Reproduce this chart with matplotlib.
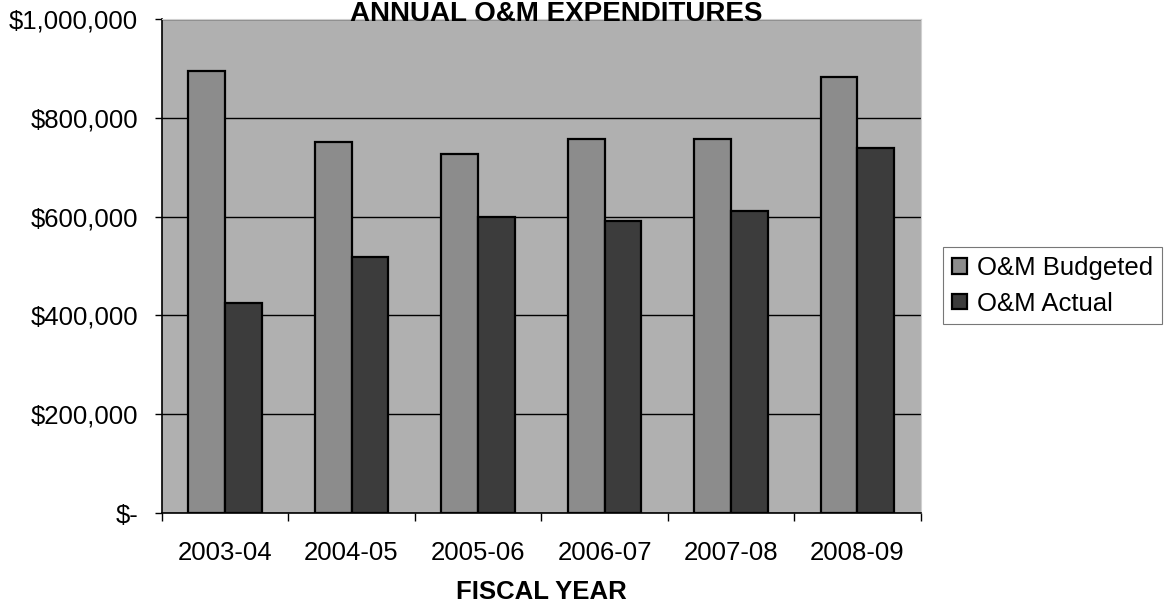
import matplotlib.pyplot as plt
import numpy as np
from matplotlib.ticker import FuncFormatter, FixedLocator

plt.rcParams['font.family'] = ['Liberation Sans', 'DejaVu Sans']

years = ["2003-04", "2004-05", "2005-06", "2006-07", "2007-08", "2008-09"]
budgeted = [895000, 750000, 726000, 757000, 757000, 883000]
actual = [425000, 519000, 599000, 592000, 611000, 739000]

def money(v, pos):
    if v == 0:
        return "$-"
    return "${:,.0f}".format(v)

fig = plt.figure(figsize=(11.64, 6.10), dpi=100)
ax = fig.add_axes([0.139, 0.159, 0.652, 0.810])
ax.set_facecolor('#b0b0b0')

x = np.arange(len(years))
w = 0.29
ax.bar(x - w / 2, budgeted, w, color='#8c8c8c', edgecolor='black', linewidth=1.6,
       label='O&M Budgeted', zorder=3)
ax.bar(x + w / 2, actual, w, color='#3c3c3c', edgecolor='black', linewidth=1.6,
       label='O&M Actual', zorder=3)

ax.set_xlim(-0.5, len(years) - 0.5)
ax.set_ylim(0, 1000000)
ax.set_yticks(np.arange(0, 1000001, 200000))
ax.yaxis.set_major_formatter(FuncFormatter(money))
ax.grid(axis='y', color='black', linewidth=1.0, zorder=1)

# category labels centred, ticks on the category boundaries
ax.set_xticks(x)
ax.set_xticklabels(years, fontsize=18.5)
ax.tick_params(axis='x', length=0, pad=20)
ax.xaxis.set_minor_locator(FixedLocator(np.arange(-0.5, len(years), 1.0)))
ax.tick_params(axis='x', which='minor', length=6, width=1, direction='out')
ax.tick_params(axis='y', labelsize=18.5, length=5, width=1, direction='out', pad=12)

for s in ['top', 'right']:
    ax.spines[s].set_color('#d0d0d0')
for s in ['left', 'bottom']:
    ax.spines[s].set_color('black')
    ax.spines[s].set_linewidth(1.2)

ax.set_xlabel("FISCAL YEAR", fontsize=18.5, fontweight='bold', labelpad=11)
fig.text(0.478, 0.999, "ANNUAL O&M EXPENDITURES", fontsize=20, fontweight='bold',
         ha='center', va='top', zorder=5)

leg = ax.legend(loc='center left', bbox_to_anchor=(1.03, 0.46), fontsize=18.5,
                frameon=True, fancybox=False, edgecolor='#555555',
                handlelength=0.55, handleheight=0.55, handletextpad=0.4,
                borderpad=0.35, labelspacing=0.45, borderaxespad=0)
leg.get_frame().set_linewidth(0.8)

fig.savefig("out.png", dpi=100)
